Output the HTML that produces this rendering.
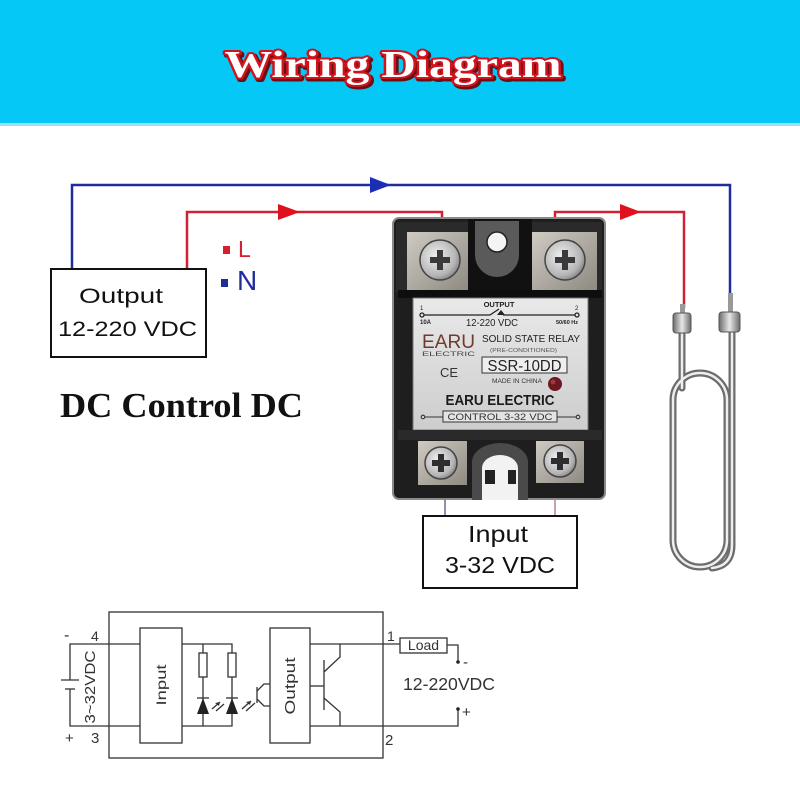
<!DOCTYPE html>
<html><head><meta charset="utf-8"><style>
html,body{margin:0;padding:0;background:#fff;}
svg{display:block;}
.s{font-family:"Liberation Sans",sans-serif;}
.sf{font-family:"Liberation Serif",serif;font-weight:bold;}
</style></head><body>
<svg width="800" height="800" viewBox="0 0 800 800" xmlns="http://www.w3.org/2000/svg" font-family="Liberation Sans, sans-serif">
<defs>
<linearGradient id="panel" x1="0" y1="0" x2="0" y2="1"><stop offset="0" stop-color="#e9e9e9"/><stop offset="1" stop-color="#cdcdcd"/></linearGradient>
<radialGradient id="screw" cx="0.4" cy="0.4" r="0.7"><stop offset="0" stop-color="#f0f0f0"/><stop offset="0.7" stop-color="#b5b5b5"/><stop offset="1" stop-color="#707070"/></radialGradient>
<linearGradient id="block" x1="0" y1="0" x2="1" y2="1"><stop offset="0" stop-color="#cfcbc2"/><stop offset="1" stop-color="#8e8a82"/></linearGradient>
<linearGradient id="cap" x1="0" y1="0" x2="1" y2="0"><stop offset="0" stop-color="#6a6a6a"/><stop offset="0.5" stop-color="#e8e8e8"/><stop offset="1" stop-color="#6a6a6a"/></linearGradient>
</defs>
<rect width="800" height="800" fill="#fff"/>
<!-- banner -->
<rect x="0" y="0" width="800" height="125" fill="#05c8f7"/>
<rect x="0" y="123" width="800" height="3" fill="#9adff4"/>
<text class="sf" x="395" y="79" text-anchor="middle" font-size="38" textLength="337" lengthAdjust="spacingAndGlyphs" fill="#6b0f14" stroke="#6b0f14" stroke-width="5" stroke-linejoin="round">Wiring Diagram</text>
<text class="sf" x="393" y="77" text-anchor="middle" font-size="38" textLength="337" lengthAdjust="spacingAndGlyphs" fill="#ffffff" stroke="#d0141e" stroke-width="4" stroke-linejoin="round" paint-order="stroke">Wiring Diagram</text>

<!-- wires -->
<polyline points="72,269 72,185 730,185 730,295" fill="none" stroke="#1f2c9c" stroke-width="2.5"/>
<polygon points="370,177 391,185 370,193" fill="#1b2fb5"/>
<polyline points="187,269 187,212 442,212 442,224" fill="none" stroke="#cc2233" stroke-width="2.5"/>
<polygon points="278,204 300,212 278,220" fill="#e0101e"/>
<polyline points="555,224 555,212 684,212 684,308" fill="none" stroke="#cc2233" stroke-width="2.5"/>
<polygon points="620,204 641,212 620,220" fill="#e0101e"/>

<!-- output box -->
<rect x="51" y="269" width="155" height="88" fill="#fff" stroke="#111" stroke-width="2"/>
<text class="s" x="79" y="303" font-size="21" textLength="84" lengthAdjust="spacingAndGlyphs" fill="#111">Output</text>
<text class="s" x="58" y="336" font-size="21" textLength="139" lengthAdjust="spacingAndGlyphs" fill="#111">12-220 VDC</text>

<!-- L N -->
<rect x="223" y="246" width="7" height="8" fill="#d42030"/>
<text class="s" x="238" y="257" font-size="23" fill="#d42030">L</text>
<rect x="221" y="279" width="7" height="8" fill="#1f2c9c"/>
<text class="s" x="237" y="290" font-size="28" fill="#1f2c9c">N</text>

<text class="sf" x="60" y="417" font-size="35" textLength="243" lengthAdjust="spacingAndGlyphs" fill="#111">DC Control DC</text>

<!-- relay -->
<rect x="393" y="218" width="212" height="281" rx="6" fill="#1e1e1e"/>
<rect x="393" y="218" width="212" height="281" rx="6" fill="none" stroke="#8a8a8a" stroke-width="2"/>
<rect x="396" y="222" width="72" height="70" fill="#2a2a2a"/>
<rect x="532" y="222" width="70" height="70" fill="#2a2a2a"/>
<rect x="407" y="232" width="61" height="58" fill="url(#block)"/>
<rect x="532" y="232" width="65" height="58" fill="url(#block)"/>
<circle cx="440" cy="260" r="20" fill="url(#screw)" stroke="#444" stroke-width="1.5"/>
<circle cx="565" cy="260" r="20" fill="url(#screw)" stroke="#444" stroke-width="1.5"/>
<g fill="#3a3a3a"><rect x="430" y="257" width="20" height="6"/><rect x="437" y="250" width="6" height="20"/>
<rect x="555" y="257" width="20" height="6"/><rect x="562" y="250" width="6" height="20"/></g>
<rect x="468" y="219" width="64" height="76" fill="#111"/>
<path d="M475,221 L475,255 A22,22 0 0 0 519,255 L519,221 Z" fill="#5a5a5a"/>
<circle cx="497" cy="242" r="10" fill="#f4f4f4" stroke="#222" stroke-width="1.5"/>
<rect x="398" y="290" width="204" height="8" fill="#0e0e0e"/>
<rect x="413" y="298" width="175" height="132" fill="url(#panel)" stroke="#777" stroke-width="1"/>
<!-- label -->
<text class="s" x="499" y="307" text-anchor="middle" font-size="7.5" font-weight="bold" fill="#222">OUTPUT</text>
<text class="s" x="420" y="310" font-size="6" fill="#222">1</text>
<text class="s" x="575" y="310" font-size="6" fill="#222">2</text>
<g stroke="#222" stroke-width="1.3" fill="none"><line x1="424" y1="315" x2="490" y2="315"/><line x1="490" y1="315" x2="499" y2="309"/><line x1="503" y1="315" x2="575" y2="315"/><circle cx="422" cy="315" r="2"/><circle cx="577" cy="315" r="2"/></g>
<polygon points="497,315 501,310 505,315" fill="#222"/>
<text class="s" x="420" y="324" font-size="6" font-weight="bold" fill="#222">10A</text>
<text class="s" x="578" y="324" text-anchor="end" font-size="5.5" font-weight="bold" fill="#222">50/60 Hz</text>
<text class="s" x="466" y="326" font-size="10.5" textLength="52" lengthAdjust="spacingAndGlyphs" fill="#222">12-220 VDC</text>
<text class="s" x="422" y="348" font-size="19" textLength="53" lengthAdjust="spacingAndGlyphs" fill="#6e3b2c">EARU</text>
<text class="s" x="422" y="356" font-size="6.5" textLength="53" lengthAdjust="spacingAndGlyphs" fill="#444">ELECTRIC</text>
<text class="s" x="482" y="342" font-size="10.5" textLength="98" lengthAdjust="spacingAndGlyphs" fill="#222">SOLID STATE RELAY</text>
<text class="s" x="490" y="352" font-size="5.5" textLength="67" lengthAdjust="spacingAndGlyphs" fill="#555">(PRE-CONDITIONED)</text>
<rect x="482" y="357" width="85" height="16" fill="#eeeeee" stroke="#333" stroke-width="1"/>
<text class="s" x="524.5" y="371" text-anchor="middle" font-size="16" textLength="74" lengthAdjust="spacingAndGlyphs" fill="#222">SSR-10DD</text>
<text class="s" x="440" y="377" font-size="13" fill="#333">CE</text>
<text class="s" x="492" y="383" font-size="6" textLength="50" lengthAdjust="spacingAndGlyphs" fill="#333">MADE IN CHINA</text>
<circle cx="555" cy="384" r="7" fill="#6b1820"/>
<circle cx="553" cy="382" r="2.5" fill="#9a3a40"/>
<text class="s" x="500" y="405" text-anchor="middle" font-size="15" font-weight="bold" textLength="109" lengthAdjust="spacingAndGlyphs" fill="#1a1a1a">EARU ELECTRIC</text>
<g stroke="#333" stroke-width="1.1" fill="none"><line x1="425" y1="417" x2="443" y2="417"/><line x1="557" y1="417" x2="576" y2="417"/><circle cx="423" cy="417" r="1.8"/><circle cx="578" cy="417" r="1.8"/></g>
<rect x="443" y="411" width="114" height="11" fill="#e4e4e4" stroke="#333" stroke-width="1"/>
<text class="s" x="500" y="420" text-anchor="middle" font-size="9" textLength="105" lengthAdjust="spacingAndGlyphs" fill="#333">CONTROL 3-32 VDC</text>
<!-- relay bottom -->
<rect x="398" y="430" width="204" height="10" fill="#2a2a2a"/>
<rect x="418" y="441" width="49" height="44" fill="url(#block)"/>
<rect x="536" y="441" width="48" height="42" fill="url(#block)"/>
<circle cx="441" cy="463" r="16" fill="url(#screw)" stroke="#444" stroke-width="1.5"/>
<circle cx="560" cy="461" r="16" fill="url(#screw)" stroke="#444" stroke-width="1.5"/>
<g fill="#2e2e2e"><rect x="432" y="460" width="18" height="6"/><rect x="438" y="454" width="6" height="18"/>
<rect x="551" y="458" width="18" height="6"/><rect x="557" y="452" width="6" height="18"/></g>
<path d="M472,500 L472,462 A28,19 0 0 1 528,462 L528,500 Z" fill="#4a4a4a"/>
<path d="M482,500 L482,468 A18,13 0 0 1 518,468 L518,500 Z" fill="#f2f2f2"/>
<rect x="485" y="470" width="10" height="14" fill="#222"/>
<rect x="508" y="470" width="8" height="14" fill="#222"/>
<line x1="445" y1="499" x2="445" y2="517" stroke="#7d6e9a" stroke-width="1.6"/>
<line x1="555" y1="499" x2="555" y2="517" stroke="#c08a95" stroke-width="1.6"/>
<!-- input box -->
<rect x="423" y="516" width="154" height="72" fill="#fff" stroke="#111" stroke-width="2"/>
<text class="s" x="468" y="542" font-size="23" textLength="60" lengthAdjust="spacingAndGlyphs" fill="#111">Input</text>
<text class="s" x="445" y="573" font-size="23" textLength="110" lengthAdjust="spacingAndGlyphs" fill="#111">3-32 VDC</text>

<!-- heater -->
<g fill="none" stroke-linecap="round">
<g stroke="#6c6c6c" stroke-width="7">
<path d="M700,373 A27,27 0 0 1 727,400 L727,540 A27,27 0 0 1 673,540 L673,400 A27,27 0 0 1 700,373 Z"/>
<path d="M682,333 L682,388"/>
<path d="M732,333 L732,545 Q732,566 712,568"/>
</g>
<g stroke="#eeeeee" stroke-width="2.5">
<path d="M700,373 A27,27 0 0 1 727,400 L727,540 A27,27 0 0 1 673,540 L673,400 A27,27 0 0 1 700,373 Z"/>
<path d="M682,333 L682,388"/>
<path d="M732,333 L732,545 Q732,566 712,568"/>
</g>
</g>
<rect x="680" y="304" width="5" height="10" fill="#999"/>
<rect x="728" y="293" width="5" height="20" fill="#999"/>
<rect x="673" y="313" width="18" height="20" rx="3" fill="url(#cap)" stroke="#555" stroke-width="1"/>
<rect x="719" y="312" width="21" height="20" rx="3" fill="url(#cap)" stroke="#555" stroke-width="1"/>

<!-- schematic -->
<g stroke="#333" stroke-width="1.3" fill="none">
<rect x="109" y="612" width="274" height="146"/>
<rect x="140" y="628" width="42" height="115" fill="#fff"/>
<rect x="270" y="628" width="40" height="115" fill="#fff"/>
<polyline points="140,644 70,644 70,680"/>
<polyline points="70,689 70,726 140,726"/>
<line x1="61" y1="680" x2="79" y2="680"/>
<line x1="65" y1="689" x2="75" y2="689"/>
<polyline points="182,644 232,644 232,726 182,726"/>
<line x1="203" y1="644" x2="203" y2="726"/>
<rect x="199" y="653" width="8" height="24" fill="#fff"/>
<rect x="228" y="653" width="8" height="24" fill="#fff"/>
<line x1="197" y1="698" x2="209" y2="698"/>
<line x1="226" y1="698" x2="238" y2="698"/>
<line x1="212" y1="709" x2="220" y2="702"/>
<line x1="216" y1="711" x2="224" y2="704"/>
<line x1="242" y1="709" x2="251" y2="701"/>
<line x1="246" y1="711" x2="255" y2="703"/>
<line x1="257" y1="687" x2="257" y2="703"/>
<polyline points="257,691 264,684 270,684"/>
<polyline points="257,699 264,706 270,706"/>
<line x1="324" y1="660" x2="324" y2="710"/>
<line x1="310" y1="686" x2="324" y2="686"/>
<polyline points="324,672 340,657 340,644"/>
<polyline points="324,698 340,712 340,726"/>
<line x1="310" y1="644" x2="400" y2="644"/>
<polyline points="310,726 458,726 458,709"/>
<rect x="400" y="638" width="47" height="15" fill="#fff"/>
<polyline points="447,645 458,645 458,662"/>
</g>
<polygon points="197,714 209,714 203,698" fill="#222"/>
<polygon points="226,714 238,714 232,698" fill="#222"/>
<polygon points="220,702 215,703 219,706" fill="#333"/>
<polygon points="251,701 246,702 250,705" fill="#333"/>
<circle cx="458" cy="662" r="1.8" fill="#222"/>
<circle cx="458" cy="709" r="1.8" fill="#222"/>
<text class="s" x="64" y="640" font-size="16" fill="#333">-</text>
<text class="s" x="91" y="641" font-size="14" fill="#333">4</text>
<text class="s" x="65" y="743" font-size="15" fill="#333">+</text>
<text class="s" x="91" y="743" font-size="15" fill="#333">3</text>
<text class="s" x="387" y="641" font-size="14" fill="#333">1</text>
<text class="s" x="385" y="745" font-size="15" fill="#333">2</text>
<text class="s" transform="translate(90,687) rotate(-90)" x="0" y="5" text-anchor="middle" font-size="15" textLength="73" lengthAdjust="spacingAndGlyphs" fill="#333">3~32VDC</text>
<text class="s" transform="translate(161,685) rotate(-90)" x="0" y="5" text-anchor="middle" font-size="14" textLength="41" lengthAdjust="spacingAndGlyphs" fill="#333">Input</text>
<text class="s" transform="translate(290,686) rotate(-90)" x="0" y="5" text-anchor="middle" font-size="15" textLength="57" lengthAdjust="spacingAndGlyphs" fill="#333">Output</text>
<text class="s" x="423.5" y="650" text-anchor="middle" font-size="14" fill="#333">Load</text>
<text class="s" x="463" y="667" font-size="15" fill="#333">-</text>
<text class="s" x="403" y="690" font-size="17.5" textLength="92" lengthAdjust="spacingAndGlyphs" fill="#333">12-220VDC</text>
<text class="s" x="462" y="717" font-size="15" fill="#333">+</text>
</svg>
</body></html>
